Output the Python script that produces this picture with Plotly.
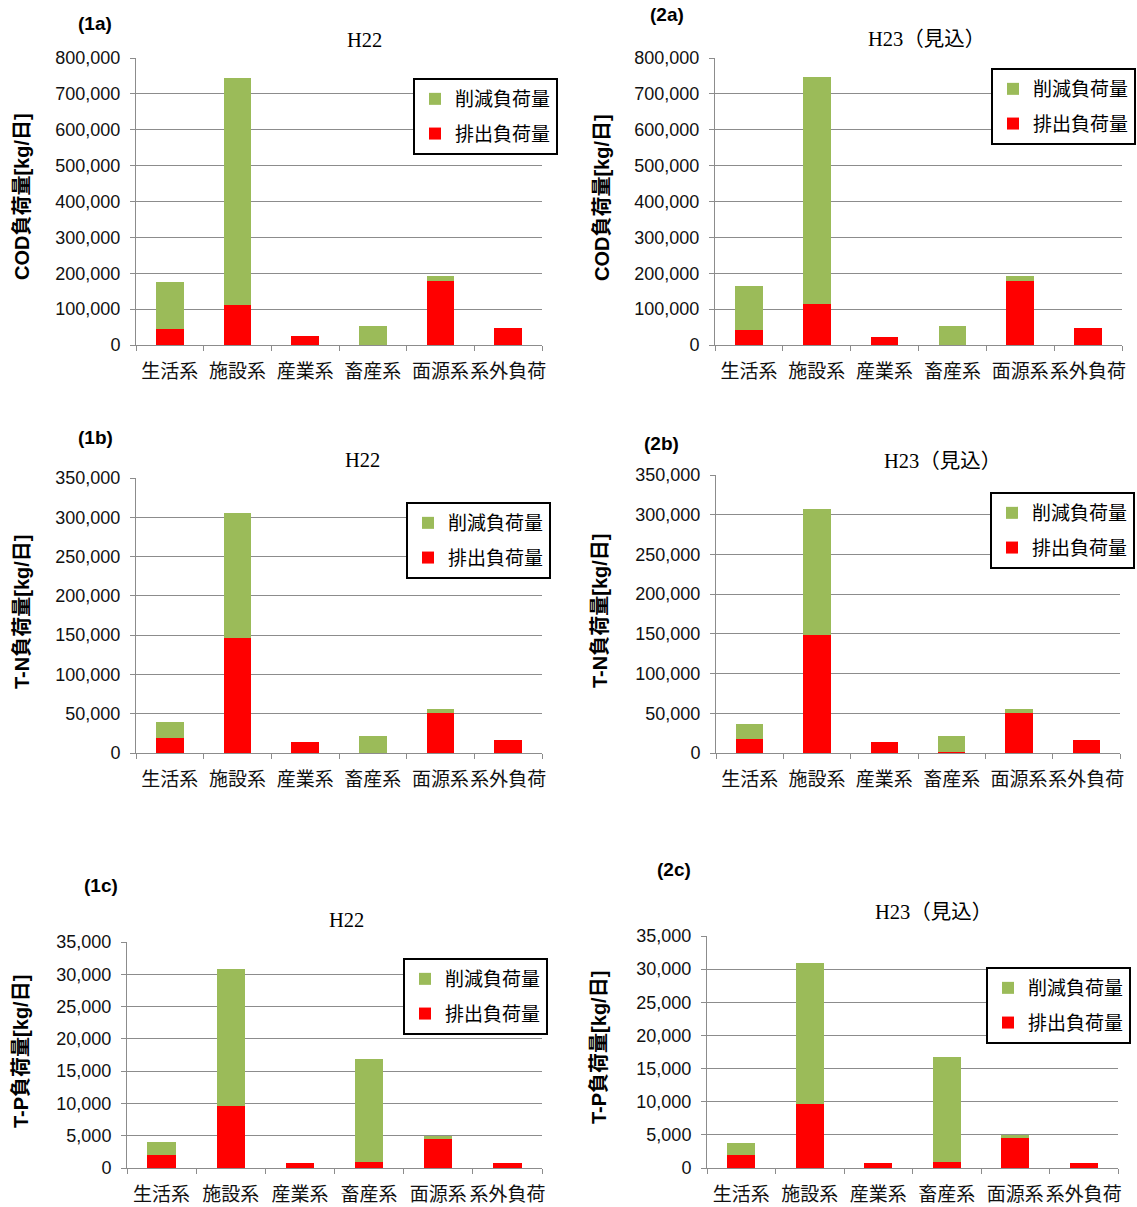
import plotly.graph_objects as go

# Source categories
categories = ["生活系", "施設系", "産業系", "畜産系", "面源系", "系外負荷"]

# COD load [kg/day]
cod_h22_emit = [45000, 112000, 25000, 1000, 179000, 47000]
cod_h22_cut = [131000, 633000, 0, 52000, 14000, 0]
cod_h23_emit = [42000, 114000, 22000, 1000, 179000, 47000]
cod_h23_cut = [123000, 634000, 0, 52000, 14000, 0]

# T-N load [kg/day]
tn_h22_emit = [19500, 146500, 14400, 500, 51200, 16900]
tn_h22_cut = [20300, 158500, 0, 21500, 5100, 0]
tn_h23_emit = [18000, 149000, 14200, 800, 50700, 16800]
tn_h23_cut = [18900, 158000, 0, 21000, 5000, 0]

# T-P load [kg/day]
tp_h22_emit = [2060, 9640, 820, 980, 4540, 820]
tp_h22_cut = [2010, 21160, 0, 15920, 460, 0]
tp_h23_emit = [2000, 9690, 800, 950, 4570, 800]
tp_h23_cut = [1820, 21210, 0, 15850, 400, 0]

series_names = ["排出負荷量", "削減負荷量"]
panel_tags = ["(1a)", "(2a)", "(1b)", "(2b)", "(1c)", "(2c)"]
year_titles = ["H22", "H23（見込）", "H22", "H23（見込）", "H22", "H23（見込）"]
y_titles = ["COD負荷量[kg/日]", "COD負荷量[kg/日]",
            "T-N負荷量[kg/日]", "T-N負荷量[kg/日]",
            "T-P負荷量[kg/日]", "T-P負荷量[kg/日]"]
y_max = [800000, 800000, 350000, 350000, 35000, 35000]
y_step = [100000, 100000, 50000, 50000, 5000, 5000]

emit_data = [cod_h22_emit, cod_h23_emit, tn_h22_emit, tn_h23_emit, tp_h22_emit, tp_h23_emit]
cut_data = [cod_h22_cut, cod_h23_cut, tn_h22_cut, tn_h23_cut, tp_h22_cut, tp_h23_cut]

W, H = 1137, 1207
RED = "#FF0000"
GREEN = "#9BBB59"
GRID = "#8c8c8c"
JP = "Noto Sans CJK JP"

# plot-area boxes in pixels: left, right, top, bottom
boxes = [
    (136, 542, 58, 345),
    (715, 1122, 58, 345),
    (136, 542, 478, 753),
    (716, 1120, 475, 753),
    (127, 542, 942, 1168),
    (707, 1118, 936, 1168),
]
# legend top-left corners in pixels
legend_pos = [(413, 78), (991, 68), (406, 502), (990, 492), (403, 958), (986, 967)]
# text anchors in pixels: panel tag, year title, y title
tag_pos = [(95, 23), (667, 15), (95, 437), (661, 443), (101, 885), (674, 869)]
title_pos = [(364, 40), (926, 39), (362, 460), (942, 461), (346, 920), (933, 912)]
ytitle_pos = [(22, 197), (602, 198), (22, 612), (600, 611), (21, 1052), (599, 1048)]


def px(x):
    return x / W


def py(y):
    return 1 - y / H


fig = go.Figure()
layout = dict(
    template="none",
    width=W, height=H,
    margin=dict(l=0, r=0, t=0, b=0, autoexpand=False),
    paper_bgcolor="white", plot_bgcolor="white",
    barmode="stack",
    hovermode=False,
    annotations=[],
)

for i in range(6):
    sfx = "" if i == 0 else str(i + 1)
    xa, ya = "x" + sfx, "y" + sfx
    leg = "legend" + sfx
    for rank, name, vals, color in ((2, series_names[0], emit_data[i], RED),
                                    (1, series_names[1], cut_data[i], GREEN)):
        fig.add_trace(go.Bar(
            x=categories, y=vals, name=name,
            marker=dict(color=color, line=dict(width=0)),
            width=0.41, xaxis=xa, yaxis=ya,
            legend=leg, legendgroup=f"{name}{i}", legendrank=rank,
            showlegend=True,
        ))
    l, r, t, b = boxes[i]
    layout["xaxis" + sfx] = dict(
        domain=[px(l), px(r)], anchor=ya, automargin=False,
        type="category", range=[-0.5, 5.5],
        showline=True, linecolor=GRID, linewidth=1,
        ticks="outside", tickson="boundaries", ticklen=5, tickcolor=GRID,
        showgrid=False, zeroline=False, tickangle=0,
        tickfont=dict(family=JP, size=19, color="#111"),
        ticklabelstandoff=9,
    )
    layout["yaxis" + sfx] = dict(
        domain=[py(b), py(t)], anchor=xa, automargin=False,
        range=[0, y_max[i]], dtick=y_step[i], tick0=0,
        tickformat=",d",
        showline=True, linecolor=GRID, linewidth=1,
        ticks="outside", ticklen=5, tickcolor=GRID,
        showgrid=True, gridcolor=GRID, gridwidth=1,
        zeroline=False,
        tickfont=dict(family="Liberation Sans", size=18, color="#111"),
        ticklabelstandoff=6,
    )
    lx, ly = legend_pos[i]
    layout[leg] = dict(
        x=px(lx), y=py(ly), xanchor="left", yanchor="top",
        bgcolor="white", bordercolor="black", borderwidth=2,
        font=dict(family=JP, size=19, color="black"),
        traceorder="grouped", tracegroupgap=7,
        itemwidth=30,
    )
    tx, ty = tag_pos[i]
    layout["annotations"].append(dict(
        text="<b>" + panel_tags[i] + "</b>", x=px(tx), y=py(ty),
        xref="paper", yref="paper", showarrow=False,
        xanchor="center", yanchor="middle",
        font=dict(family="Liberation Sans, " + JP, size=19, color="black"),
    ))
    hx, hy = title_pos[i]
    layout["annotations"].append(dict(
        text=year_titles[i], x=px(hx), y=py(hy),
        xref="paper", yref="paper", showarrow=False,
        xanchor="center", yanchor="middle",
        font=dict(family="Liberation Serif, " + JP, size=20.5, color="black"),
    ))
    vx, vy = ytitle_pos[i]
    layout["annotations"].append(dict(
        text="<b>" + y_titles[i] + "</b>", x=px(vx), y=py(vy),
        xref="paper", yref="paper", showarrow=False, textangle=-90,
        xanchor="center", yanchor="middle",
        font=dict(family="Liberation Sans, " + JP, size=20, color="black"),
    ))

fig.update_layout(**layout)
fig.write_html("out.html")
